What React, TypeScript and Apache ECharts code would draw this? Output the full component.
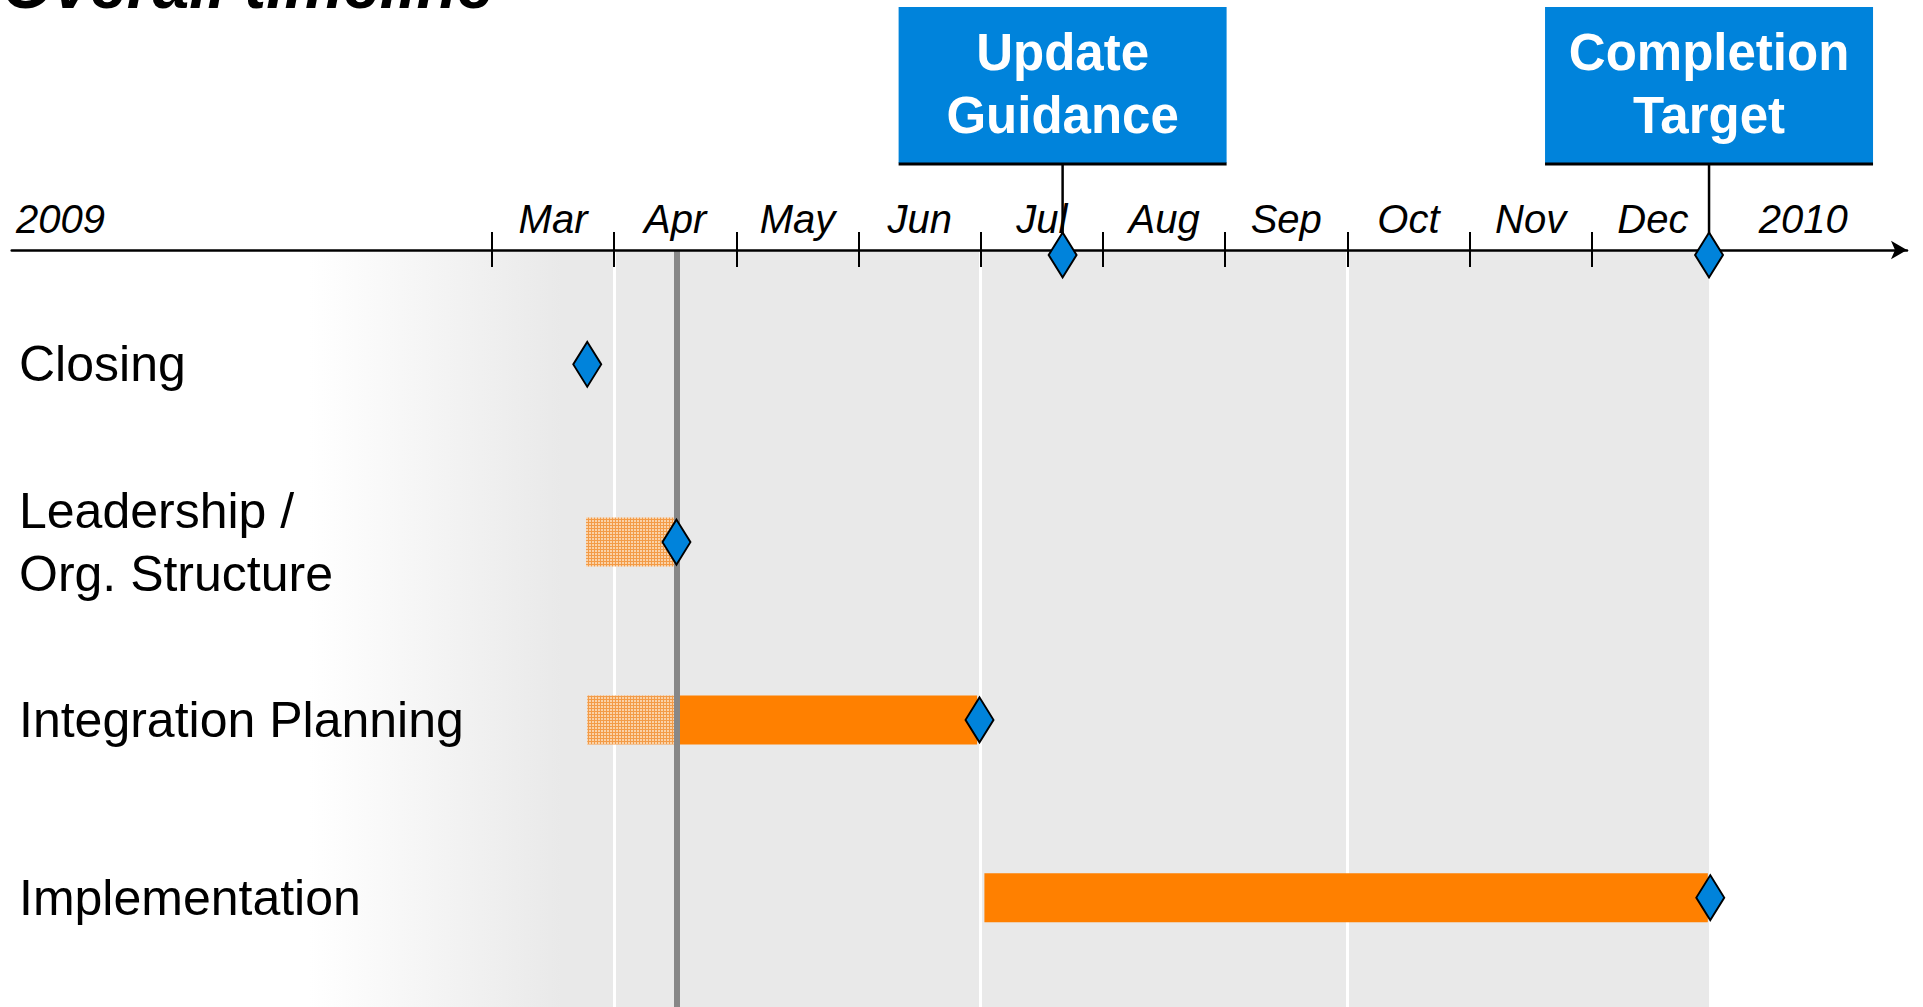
import React, { useEffect, useRef } from "react";
import * as echarts from "echarts";

// ---- data (x values are months counted from 1 Jan 2009; Mar = 2 ... Dec = 11) ----
const rows = ["Closing", "Leadership /\nOrg. Structure", "Integration Planning", "Implementation"];
const tickMonths = [2, 3, 4, 5, 6, 7, 8, 9, 10, 11];
const axisLabelValues = [-1.53, 2.5, 3.5, 4.5, 5.5, 6.5, 7.5, 8.5, 9.5, 10.5, 11.5, 12.73];
const axisLabelTexts = ["2009", "Mar", "Apr", "May", "Jun", "Jul", "Aug", "Sep", "Oct", "Nov", "Dec", "2010"];
const quarterLines = [3, 6, 9];
const todayValue = 3.51;
const shadeRange = [0.51, 11.96];
// [start, end, rowIndex]
const plannedBars = [
  [2.77, 3.5, 1],
  [2.78, 3.5, 2],
];
const actualBars = [
  [3.5, 5.97, 2],
  [6.03, 11.95, 3],
];
// [x, rowIndex]
const rowMilestones = [
  [2.78, 0],
  [3.51, 1],
  [5.99, 2],
  [11.97, 3],
];
const keyDateNames = ["Update\nGuidance", "Completion\nTarget"];
const keyDateValues = [6.67, 11.96];

const X_MIN = -1.93;
const X_MAX = 13.58;
const FONT = "'Liberation Sans', Arial, Helvetica, sans-serif";
const BLUE = "#0083DB";
const ORANGE = "#FF8000";

function makePattern() {
  const c = document.createElement("canvas");
  c.width = 3;
  c.height = 3;
  const ctx = c.getContext("2d")!;
  ctx.fillStyle = "#FAD2A8";
  ctx.fillRect(0, 0, 3, 3);
  ctx.fillStyle = "#F39B47";
  ctx.fillRect(0, 0, 3, 1);
  ctx.fillRect(0, 0, 1, 3);
  return { image: c.toDataURL(), repeat: "repeat", imageWidth: 3, imageHeight: 3 };
}

export default function App() {
  const ref = useRef<HTMLDivElement>(null);

  useEffect(() => {
    if (!ref.current) return;
    const chart = echarts.init(ref.current, undefined, { renderer: "svg" });
    const pattern = makePattern();

    const labelFor = (v: number) => {
      let best = 0;
      for (let i = 1; i < axisLabelValues.length; i++) {
        if (Math.abs(v - axisLabelValues[i]) < Math.abs(v - axisLabelValues[best])) best = i;
      }
      return axisLabelTexts[best];
    };

    const barRenderer = (fill: any) => (params: any, api: any) => {
      const row = api.value(2);
      const s = api.coord([api.value(0), row]);
      const e = api.coord([api.value(1), row]);
      const h = 49;
      return {
        type: "rect",
        shape: { x: s[0], y: s[1] - h / 2, width: e[0] - s[0], height: h },
        style: { fill },
      };
    };

    const option: any = {
      animation: false,
      backgroundColor: "#ffffff",
      graphic: [
        {
          type: "text",
          x: 2,
          y: -15,
          style: {
            text: "Overall timeline",
            font: `italic bold 66px ${FONT}`,
            fill: "#000",
            verticalAlign: "middle",
            align: "left",
          },
        },
      ],
      grid: [
        { left: 11.7, right: 16, top: 250, bottom: 0 },
        { left: 11.7, right: 16, top: 275.4, bottom: 20.4 },
        { left: 11.7, right: 16, top: 250, bottom: 0 },
      ],
      xAxis: [
        {
          gridIndex: 0,
          type: "value",
          position: "top",
          min: X_MIN,
          max: X_MAX,
          z: 10,
          splitLine: { show: false },
          axisLine: {
            show: true,
            onZero: false,
            lineStyle: { color: "#000", width: 2.5 },
            symbol: ["none", "arrow"],
            symbolSize: [14, 16],
          },
          axisTick: {
            show: true,
            customValues: tickMonths,
            length: 18,
            lineStyle: { color: "#000", width: 2 },
          },
          axisLabel: {
            show: true,
            customValues: axisLabelValues,
            formatter: (v: number) => labelFor(v),
            fontFamily: FONT,
            fontStyle: "italic",
            fontSize: 40,
            lineHeight: 40,
            color: "#000",
            margin: 11,
          },
        },
        {
          gridIndex: 2,
          type: "value",
          position: "top",
          min: X_MIN,
          max: X_MAX,
          z: 10,
          splitLine: { show: false },
          axisLine: { show: false, onZero: false },
          axisTick: {
            show: true,
            inside: true,
            customValues: tickMonths,
            length: 17,
            lineStyle: { color: "#000", width: 2 },
          },
          axisLabel: { show: false },
        },
        {
          gridIndex: 1,
          type: "value",
          min: X_MIN,
          max: X_MAX,
          show: false,
          splitLine: { show: false },
        },
      ],
      yAxis: [
        { gridIndex: 0, type: "value", min: 0, max: 1, show: false, splitLine: { show: false } },
        {
          gridIndex: 1,
          type: "category",
          data: rows,
          inverse: true,
          z: 10,
          axisLine: { show: false },
          axisTick: { show: false },
          splitLine: { show: false },
          axisLabel: {
            inside: true,
            margin: 7.3,
            fontFamily: FONT,
            fontSize: 50,
            lineHeight: 63,
            color: "#000",
          },
        },
        { gridIndex: 2, type: "value", min: 0, max: 1, show: false, splitLine: { show: false } },
      ],
      series: [
        {
          type: "line",
          xAxisIndex: 0,
          yAxisIndex: 0,
          z: 1,
          data: [[shadeRange[0], 0.5]],
          showSymbol: false,
          symbolSize: 0,
          lineStyle: { opacity: 0 },
          silent: true,
          markArea: {
            silent: true,
            z: 1,
            itemStyle: {
              color: new echarts.graphic.LinearGradient(0, 0, 1, 0, [
                { offset: 0, color: "#ffffff" },
                { offset: 0.18, color: "#E9E9E9" },
                { offset: 1, color: "#E9E9E9" },
              ]),
            },
            data: [[{ xAxis: shadeRange[0] }, { xAxis: shadeRange[1] }]],
          },
          markLine: {
            silent: true,
            z: 2,
            symbol: ["none", "none"],
            label: { show: false },
            lineStyle: { color: "#ffffff", width: 3, type: "solid" },
            data: quarterLines.map((v) => ({ xAxis: v })),
          },
        },
        {
          type: "custom",
          name: "planned",
          xAxisIndex: 2,
          yAxisIndex: 1,
          z: 3,
          renderItem: barRenderer(pattern),
          data: plannedBars,
        },
        {
          type: "custom",
          name: "actual",
          xAxisIndex: 2,
          yAxisIndex: 1,
          z: 3,
          renderItem: barRenderer(ORANGE),
          data: actualBars,
        },
        {
          type: "line",
          xAxisIndex: 0,
          yAxisIndex: 0,
          z: 4,
          data: [[todayValue, 0.5]],
          showSymbol: false,
          symbolSize: 0,
          lineStyle: { opacity: 0 },
          silent: true,
          markLine: {
            silent: true,
            z: 4,
            symbol: ["none", "none"],
            label: { show: false },
            lineStyle: { color: "#878787", width: 6, type: "solid" },
            data: [{ xAxis: todayValue }],
          },
        },
        {
          type: "custom",
          name: "keyDates",
          xAxisIndex: 0,
          yAxisIndex: 0,
          z: 5,
          clip: false,
          data: keyDateValues.map((v) => [v, 1]),
          renderItem: (params: any, api: any) => {
            const p = api.coord([api.value(0), api.value(1)]);
            const w = 328;
            return {
              type: "group",
              children: [
                {
                  type: "line",
                  shape: { x1: p[0], y1: p[1] - 87, x2: p[0], y2: p[1] },
                  style: { stroke: "#000", lineWidth: 2.5 },
                },
                {
                  type: "rect",
                  shape: { x: p[0] - w / 2, y: p[1] - 243, width: w, height: 156 },
                  style: { fill: BLUE },
                },
                {
                  type: "line",
                  shape: { x1: p[0] - w / 2, y1: p[1] - 86, x2: p[0] + w / 2, y2: p[1] - 86 },
                  style: { stroke: "#000", lineWidth: 3 },
                },
                {
                  type: "text",
                  x: p[0],
                  y: p[1] - 166,
                  style: {
                    text: keyDateNames[params.dataIndex],
                    font: `bold 51px ${FONT}`,
                    lineHeight: 63,
                    fill: "#ffffff",
                    align: "center",
                    verticalAlign: "middle",
                  },
                },
              ],
            };
          },
        },
        {
          type: "scatter",
          xAxisIndex: 2,
          yAxisIndex: 1,
          z: 6,
          symbol: "diamond",
          symbolSize: [28, 45],
          itemStyle: { color: BLUE, borderColor: "#000", borderWidth: 2, opacity: 1 },
          data: rowMilestones,
        },
        {
          type: "scatter",
          xAxisIndex: 0,
          yAxisIndex: 0,
          z: 20,
          symbol: "diamond",
          symbolSize: [28, 45],
          symbolOffset: [0, 5],
          clip: false,
          itemStyle: { color: BLUE, borderColor: "#000", borderWidth: 2, opacity: 1 },
          data: keyDateValues.map((v) => [v, 1]),
        },
      ],
    };

    chart.setOption(option);
    return () => chart.dispose();
  }, []);

  return (
    <div
      ref={ref}
      style={{ position: "fixed", left: 0, top: 0, width: "1923px", height: "1007px" }}
    />
  );
}
